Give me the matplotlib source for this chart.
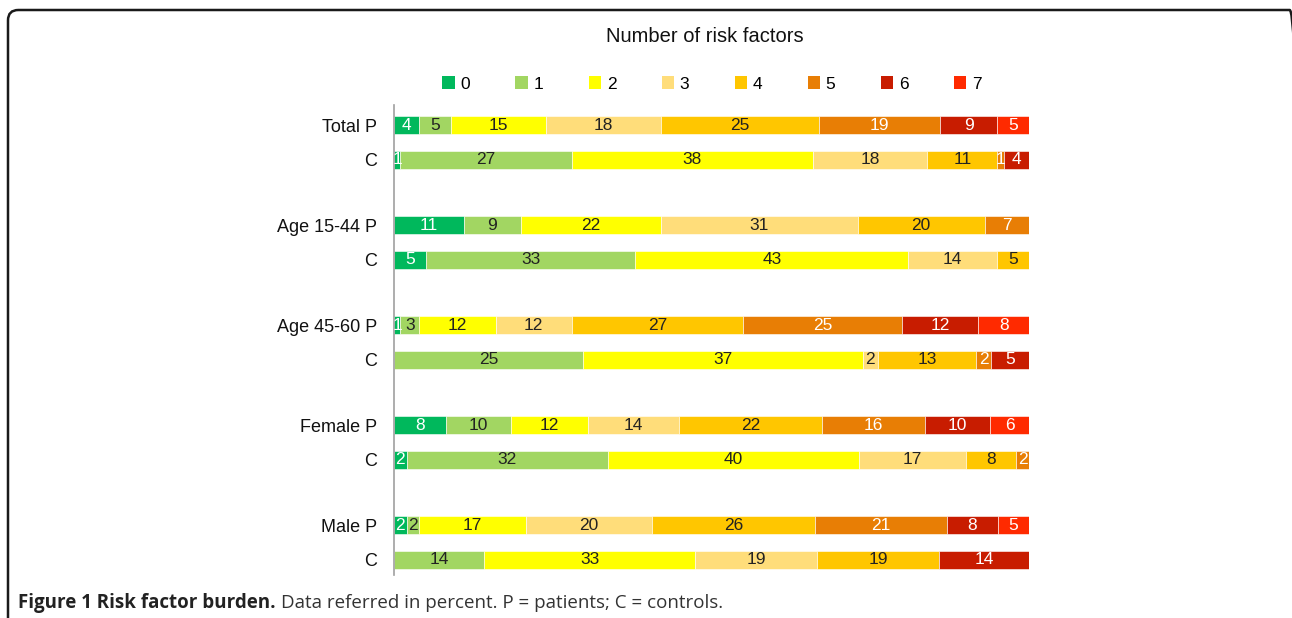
import matplotlib
matplotlib.use("Agg")
import matplotlib.pyplot as plt
from matplotlib.patches import Patch, FancyBboxPatch
import numpy as np

plt.rcParams['font.family'] = ['Liberation Sans', 'DejaVu Sans']

# number of risk factors (0..7), percent per row
categories = ['0', '1', '2', '3', '4', '5', '6', '7']
rows = ['Total P', 'C', 'Age 15-44 P', 'C', 'Age 45-60 P', 'C',
        'Female P', 'C', 'Male P', 'C']
total_p = [4, 5, 15, 18, 25, 19, 9, 5]
total_c = [1, 27, 38, 18, 11, 1, 4, 0]
age1544_p = [11, 9, 22, 31, 20, 7, 0, 0]
age1544_c = [5, 33, 43, 14, 5, 0, 0, 0]
age4560_p = [1, 3, 12, 12, 27, 25, 12, 8]
age4560_c = [0, 25, 37, 2, 13, 2, 5, 0]
female_p = [8, 10, 12, 14, 22, 16, 10, 6]
female_c = [2, 32, 40, 17, 8, 2, 0, 0]
male_p = [2, 2, 17, 20, 26, 21, 8, 5]
male_c = [0, 14, 33, 19, 19, 0, 14, 0]

data = np.array([total_p, total_c, age1544_p, age1544_c, age4560_p,
                 age4560_c, female_p, female_c, male_p, male_c], dtype=float)

colors = ['#00b85c', '#a2d662', '#ffff00', '#ffdd7a',
          '#ffc600', '#e87e05', '#c81c00', '#ff2a00']
text_colors = ['white', '#222222', '#222222', '#222222',
               '#222222', 'white', 'white', 'white']

W, H = 1292, 618
fig = plt.figure(figsize=(W / 100, H / 100), dpi=100)
ax = fig.add_axes([394 / W, 1 - 575 / H, (1029 - 394) / W, (575 - 105) / H])

# row positions (pixel-like units, top to bottom)
ypos = np.array([125 + (i // 2) * 100 + (i % 2) * 34.5 for i in range(len(rows))])

shares = data / data.sum(axis=1, keepdims=True) * 100
left = np.zeros(len(rows))
for j, cat in enumerate(categories):
    bars = ax.barh(ypos, shares[:, j], left=left, height=18,
                   color=colors[j], edgecolor='white', linewidth=0.4)
    labels = [f'{int(v)}' if v > 0 else '' for v in data[:, j]]
    ax.bar_label(bars, labels=labels, label_type='center',
                 color=text_colors[j], fontsize=12.5)
    left += shares[:, j]

ax.set_xlim(0, 100)
ax.set_ylim(575, 105)
ax.set_yticks(ypos)
ax.set_yticklabels(rows, fontsize=13, color='#111111')
ax.tick_params(axis='y', length=0, pad=12)
ax.set_xticks([])
for s in ['top', 'right', 'bottom']:
    ax.spines[s].set_visible(False)
ax.spines['left'].set_color('#a0a0a0')
ax.spines['left'].set_linewidth(1.2)

fig.text(705 / W, 1 - 36 / H, 'Number of risk factors', ha='center',
         va='center', fontsize=14.5, color='#111111')

handles = [Patch(facecolor=c, edgecolor='none') for c in colors]
fig.legend(handles, categories, ncol=8, loc='center',
           bbox_to_anchor=(712 / W, 1 - 84 / H), frameon=False,
           fontsize=12.5, handlelength=0.7, handleheight=0.75,
           handletextpad=0.35, columnspacing=2.6, borderpad=0)

# frame around the figure
box = FancyBboxPatch((8 / W, -30 / H), (1300 - 8) / W, (H - 10 + 30) / H,
                     boxstyle='round,pad=0,rounding_size=0.008',
                     transform=fig.transFigure, facecolor='none',
                     edgecolor='#1a1a1a', linewidth=1.8, mutation_aspect=W / H)
fig.patches.append(box)

# caption
t1 = fig.text(18 / W, 1 - 603 / H, 'Figure 1 Risk factor burden.', ha='left',
              va='center', fontsize=13.5, fontweight='bold', color='#222222',
              family='Open Sans')
fig.canvas.draw()
bb = t1.get_window_extent()
fig.text((bb.x1 + 5) / W, 1 - 603 / H,
         'Data referred in percent. P = patients; C = controls.', ha='left',
         va='center', fontsize=13.5, color='#333333', family='Open Sans')

fig.savefig('out.png', dpi=100)
